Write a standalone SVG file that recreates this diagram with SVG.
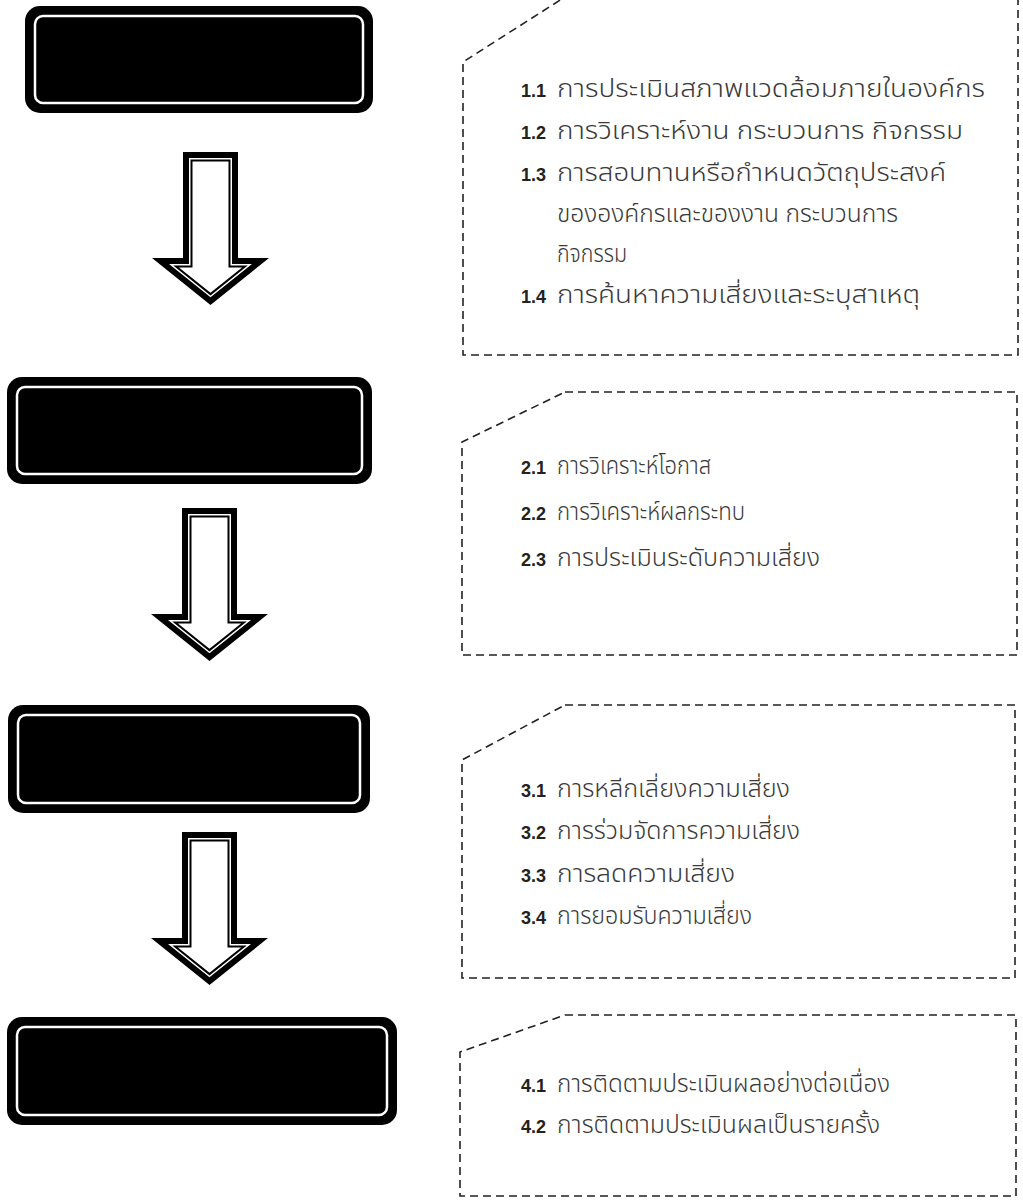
<svg xmlns="http://www.w3.org/2000/svg" width="1023" height="1201" viewBox="0 0 1023 1201">
<style>
.box-outer{fill:#000}
.box-inner{fill:none;stroke:#fff;stroke-width:2.5}
.panel{fill:none;stroke:#222;stroke-width:1.6;stroke-dasharray:8 5}
.num{font-family:"Liberation Sans",Arial,sans-serif;font-size:18px;font-weight:bold;fill:#222}
.th{font-family:"Noto Sans Thai","Liberation Sans","DejaVu Sans",sans-serif;font-size:24px;font-weight:300;fill:#3a3a3a}
</style>
<defs>
<g id="arrow">
<path d="M0,0 H55 V106 H86 L27.5,153 L-31,106 H0 Z" fill="#000"/>
<path d="M6,6 H49 V112 H69 L27.5,145.3 L-14,112 H6 Z" fill="#fff"/>
<path d="M8.5,8.5 H46.5 V114.5 H61.9 L27.5,142.1 L-6.9,114.5 H8.5 Z" fill="#fff" stroke="#000" stroke-width="2"/>
</g>
</defs>
<rect width="1023" height="1201" fill="#fff"/>

<g id="step1">
<rect class="box-outer" x="25" y="6" width="348" height="107" rx="15"/>
<rect class="box-inner" x="35" y="16" width="328" height="87" rx="8"/>
</g>
<g id="step2">
<rect class="box-outer" x="7" y="377" width="365" height="107" rx="15"/>
<rect class="box-inner" x="17" y="387" width="345" height="87" rx="8"/>
</g>
<g id="step3">
<rect class="box-outer" x="8" y="705" width="362" height="108" rx="15"/>
<rect class="box-inner" x="18" y="715" width="342" height="88" rx="8"/>
</g>
<g id="step4">
<rect class="box-outer" x="7" y="1017" width="390" height="108" rx="15"/>
<rect class="box-inner" x="17" y="1027" width="370" height="88" rx="8"/>
</g>

<g id="connectors">
<use href="#arrow" transform="translate(183,152)"/>
<use href="#arrow" transform="translate(182,508)"/>
<use href="#arrow" transform="translate(182,832)"/>
</g>

<g id="panel1">
<path class="panel" d="M1018,-3 V355 H463 V62 L565,-3"/>
<text class="num" x="521" y="97">1.1</text>
<text class="th" x="557" y="97" textLength="428" lengthAdjust="spacingAndGlyphs">การประเมินสภาพแวดล้อมภายในองค์กร</text>
<text class="num" x="521" y="139">1.2</text>
<text class="th" x="557" y="139" textLength="406" lengthAdjust="spacingAndGlyphs">การวิเคราะห์งาน กระบวนการ กิจกรรม</text>
<text class="num" x="521" y="181">1.3</text>
<text class="th" x="557" y="181" textLength="389" lengthAdjust="spacingAndGlyphs">การสอบทานหรือกำหนดวัตถุประสงค์</text>
<text class="th" x="557" y="222" textLength="341" lengthAdjust="spacingAndGlyphs">ขององค์กรและของงาน กระบวนการ</text>
<text class="th" x="557" y="262" textLength="70" lengthAdjust="spacingAndGlyphs">กิจกรรม</text>
<text class="num" x="521" y="303">1.4</text>
<text class="th" x="557" y="303" textLength="363" lengthAdjust="spacingAndGlyphs">การค้นหาความเสี่ยงและระบุสาเหตุ</text>
</g>

<g id="panel2">
<path class="panel" d="M565,392 H1017 V655 H462 V442 Z"/>
<text class="num" x="521" y="474">2.1</text>
<text class="th" x="557" y="474" textLength="154" lengthAdjust="spacingAndGlyphs">การวิเคราะห์โอกาส</text>
<text class="num" x="521" y="520">2.2</text>
<text class="th" x="557" y="520" textLength="188" lengthAdjust="spacingAndGlyphs">การวิเคราะห์ผลกระทบ</text>
<text class="num" x="521" y="566">2.3</text>
<text class="th" x="557" y="566" textLength="263" lengthAdjust="spacingAndGlyphs">การประเมินระดับความเสี่ยง</text>
</g>

<g id="panel3">
<path class="panel" d="M565,705 H1015 V978 H462 V760 Z"/>
<text class="num" x="521" y="797">3.1</text>
<text class="th" x="557" y="797" textLength="233" lengthAdjust="spacingAndGlyphs">การหลีกเลี่ยงความเสี่ยง</text>
<text class="num" x="521" y="839">3.2</text>
<text class="th" x="557" y="839" textLength="243" lengthAdjust="spacingAndGlyphs">การร่วมจัดการความเสี่ยง</text>
<text class="num" x="521" y="882">3.3</text>
<text class="th" x="557" y="882" textLength="178" lengthAdjust="spacingAndGlyphs">การลดความเสี่ยง</text>
<text class="num" x="521" y="924">3.4</text>
<text class="th" x="557" y="924" textLength="195" lengthAdjust="spacingAndGlyphs">การยอมรับความเสี่ยง</text>
</g>

<g id="panel4">
<path class="panel" d="M565,1015 H1016 V1196 H460 V1052 Z"/>
<text class="num" x="521" y="1092">4.1</text>
<text class="th" x="557" y="1092" textLength="333" lengthAdjust="spacingAndGlyphs">การติดตามประเมินผลอย่างต่อเนื่อง</text>
<text class="num" x="521" y="1133">4.2</text>
<text class="th" x="557" y="1133" textLength="323" lengthAdjust="spacingAndGlyphs">การติดตามประเมินผลเป็นรายครั้ง</text>
</g>
</svg>
